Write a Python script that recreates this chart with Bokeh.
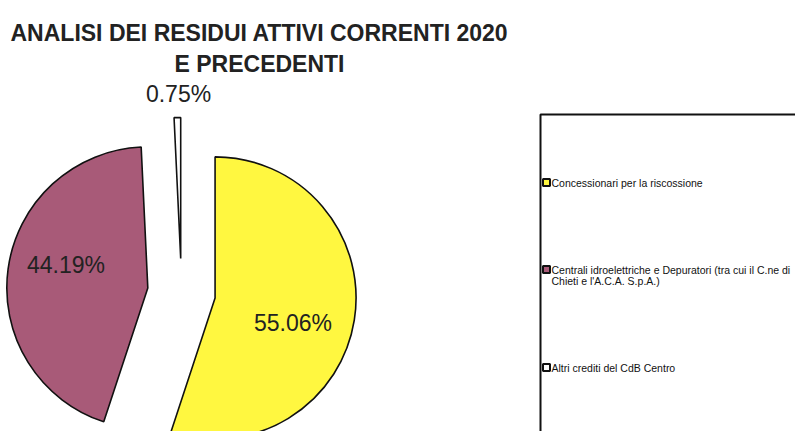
import math
from bokeh.plotting import figure
from bokeh.models import Range1d, ColumnDataSource
from bokeh.core.properties import value
from bokeh.embed import file_html
from bokeh.resources import INLINE

# ---- data ----
title_lines = ["ANALISI DEI RESIDUI ATTIVI CORRENTI 2020", "E PRECEDENTI"]
categories = ["Concessionari per la riscossione",
              "Centrali idroelettriche e Depuratori (tra cui il C.ne di\nChieti e l'A.C.A. S.p.A.)",
              "Altri crediti del CdB Centro"]
shares = [55.06, 44.19, 0.75]
labels = ["55.06%", "44.19%", "0.75%"]
colors = ["#FFF740", "#A85A78", "#FFFFFF"]

# ---- layout / style ----
W, H = 795, 431
cx, cy_s = 181, 292
R = 141
EXPLODE = 34
label_dist = [82, 85, 165]
label_shift = [-9, -8, -0.6]
FONT = "Liberation Sans"

p = figure(width=W, height=H, x_range=Range1d(0, W), y_range=Range1d(0, H),
           output_backend="svg", toolbar_location=None, min_border=0)
p.axis.visible = False
p.grid.visible = False
p.outline_line_color = None
p.background_fill_color = "white"

def sy(v):
    return H - v

cy = sy(cy_s)
total = sum(shares)
xs, ys, starts, ends, lx, ly = [], [], [], [], [], []
cum = 0.0
for i, s in enumerate(shares):
    a0 = 90 - cum / total * 360
    cum += s
    a1 = 90 - cum / total * 360
    mid = math.radians((a0 + a1) / 2)
    vx = cx + EXPLODE * math.cos(mid)
    vy = cy + EXPLODE * math.sin(mid)
    xs.append(vx); ys.append(vy)
    starts.append(math.radians(a1)); ends.append(math.radians(a0))
    la = mid + math.radians(label_shift[i])
    lx.append(vx + label_dist[i] * math.cos(la))
    ly.append(vy + label_dist[i] * math.sin(la))

src = ColumnDataSource(dict(x=xs, y=ys, start=starts, end=ends, color=colors,
                            lx=lx, ly=ly, label=labels))
p.wedge(x="x", y="y", radius=R, start_angle="start", end_angle="end",
        fill_color="color", line_color="#111111", line_width=1.6, source=src)
p.text(x="lx", y="ly", text="label", source=src, text_font=value(FONT),
       text_font_size="23px", text_align="center", text_baseline="middle",
       text_color="#222222")

# title
p.text(x=[259, 259], y=[sy(32), sy(63)], text=title_lines, text_font=value(FONT),
       text_font_size="23px", text_font_style="bold", text_align="center",
       text_baseline="middle", text_color="#222222")

# legend box (extends beyond the canvas right/bottom)
p.quad(left=[540], right=[830], top=[sy(114)], bottom=[sy(460)],
       fill_color=None, line_color="#111111", line_width=2)
item_y = [182, 269, 367]
mk_x = 546
for i, cat in enumerate(categories):
    yv = sy(item_y[i])
    p.scatter(x=[mk_x], y=[yv], marker="square", size=7, fill_color=colors[i],
              line_color="#111111", line_width=2)
    for j, line in enumerate(cat.split("\n")):
        p.text(x=[551], y=[yv - j * 11.5], text=[line], text_font=value(FONT),
               text_font_size="10.5px", text_align="left", text_baseline="middle",
               text_color="#111111")

open("out.html", "w").write(file_html(p, INLINE))
